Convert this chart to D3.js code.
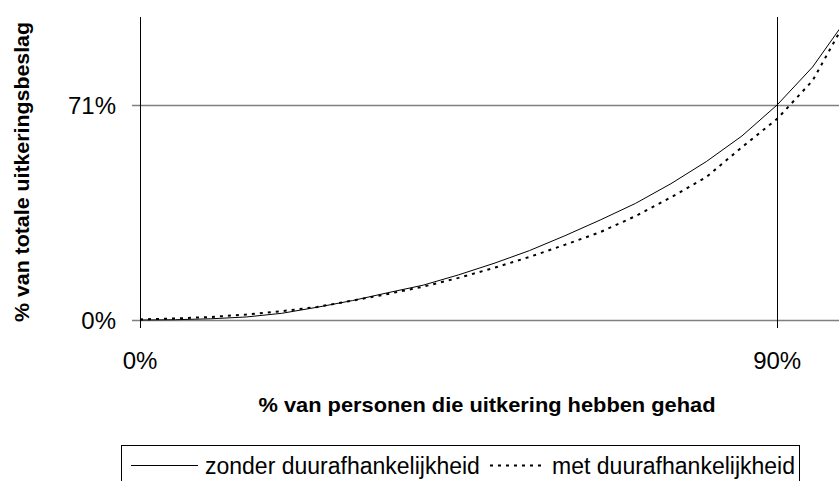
<!DOCTYPE html>
<html>
<head>
<meta charset="utf-8">
<script src="https://cdn.jsdelivr.net/npm/d3@7"></script>
<style>
    body { margin: 0; background: #fff; }
    svg { display: block; }
    text { font-family: "Liberation Sans", Arial, sans-serif; fill: #000; }
</style>
</head>
<body>
<div id="chart"></div>
<script>
// % van personen (x) en % van totale uitkeringsbeslag (y)
var xPct = [0, 5, 10, 15, 20, 25, 30, 35, 40, 45, 50, 55, 60, 65, 70, 75, 80, 85, 90, 95, 100];
var zonder = [0, 0.1, 0.4, 1.0, 2.2, 4.2, 6.4, 9.0, 11.5, 14.9, 18.7, 22.9, 27.8, 33.0, 38.5, 45.0, 52.3, 60.7, 71, 83.5, 100];
var met = [0.2, 0.5, 1.0, 1.8, 2.9, 4.3, 6.4, 8.6, 11.0, 13.9, 17.2, 20.8, 24.8, 29.0, 34.3, 40.5, 47.2, 57.0, 66.4, 79.0, 100];
var xTicks = [0, 90];
var yTicks = [0, 71];
var seriesNames = ["zonder duurafhankelijkheid", "met duurafhankelijkheid"];

function Chart(tagname, width, height) {
    this.svg;
    this.init(tagname, width, height);
}

Chart.prototype.init = function (tagname, width, height) {
    this.svg = d3.select(tagname).append("svg")
        .attr("width", width)
        .attr("height", height);

    var x = d3.scaleLinear().domain([0, 100]).range([140, 848]);
    var y = d3.scaleLinear().domain([0, 100]).range([320, 17]);
    var svg = this.svg;

    // horizontal grid lines (grey), running a bit left of the axis as ticks
    svg.append("g").selectAll("line")
        .data(yTicks)
        .enter().append("line")
        .attr("x1", x(0) - 8)
        .attr("x2", x(100))
        .attr("y1", function (d) { return Math.round(y(d)) + 0.5; })
        .attr("y2", function (d) { return Math.round(y(d)) + 0.5; })
        .style("stroke", "#808080")
        .style("stroke-width", 1.3);

    // vertical lines (black), incl. the y axis itself
    svg.append("g").selectAll("line")
        .data(xTicks)
        .enter().append("line")
        .attr("x1", function (d) { return Math.round(x(d)) + 0.5; })
        .attr("x2", function (d) { return Math.round(x(d)) + 0.5; })
        .attr("y1", y(100))
        .attr("y2", y(0) + 8)
        .style("stroke", "#000")
        .style("stroke-width", 1);

    svg.append("g").selectAll("text")
        .data(yTicks)
        .enter().append("text")
        .attr("x", 116)
        .attr("y", function (d) { return y(d) + 9; })
        .attr("text-anchor", "end")
        .attr("font-size", 24)
        .text(function (d) { return d + "%"; });

    svg.append("g").selectAll("text")
        .data(xTicks)
        .enter().append("text")
        .attr("x", function (d) { return x(d); })
        .attr("y", 369)
        .attr("text-anchor", "middle")
        .attr("font-size", 24)
        .text(function (d) { return d + "%"; });

    svg.append("text")
        .attr("x", 487)
        .attr("y", 412)
        .attr("text-anchor", "middle")
        .attr("font-size", 21)
        .attr("font-weight", "bold")
        .attr("textLength", 457)
        .attr("lengthAdjust", "spacingAndGlyphs")
        .text("% van personen die uitkering hebben gehad");

    svg.append("text")
        .attr("transform", "translate(29,172) rotate(-90)")
        .attr("text-anchor", "middle")
        .attr("font-size", 21)
        .attr("font-weight", "bold")
        .attr("textLength", 300)
        .attr("lengthAdjust", "spacingAndGlyphs")
        .text("% van totale uitkeringsbeslag");

    var line = d3.line()
        .x(function (d) { return x(d[0]); })
        .y(function (d) { return y(d[1]); });

    svg.append("path")
        .datum(d3.zip(xPct, zonder))
        .attr("d", line)
        .style("fill", "none")
        .style("stroke", "#000")
        .style("stroke-width", 1);

    svg.append("path")
        .datum(d3.zip(xPct, met))
        .attr("d", line)
        .style("fill", "none")
        .style("stroke", "#000")
        .style("stroke-width", 2)
        .style("stroke-dasharray", "3,5");

    // legend (box runs off the bottom edge)
    var lg = svg.append("g");
    lg.append("rect")
        .attr("x", 121.5)
        .attr("y", 445.5)
        .attr("width", 678)
        .attr("height", 60)
        .style("fill", "#fff")
        .style("stroke", "#000")
        .style("stroke-width", 1);

    lg.append("line")
        .attr("x1", 131).attr("x2", 198)
        .attr("y1", 465.5).attr("y2", 465.5)
        .style("stroke", "#000");
    lg.append("text")
        .attr("x", 205)
        .attr("y", 474)
        .attr("font-size", 23)
        .text(seriesNames[0]);

    lg.append("line")
        .attr("x1", 490).attr("x2", 546)
        .attr("y1", 465.5).attr("y2", 465.5)
        .style("stroke", "#000")
        .style("stroke-width", 2)
        .style("stroke-dasharray", "3,5");
    lg.append("text")
        .attr("x", 795)
        .attr("y", 474)
        .attr("text-anchor", "end")
        .attr("font-size", 23)
        .text(seriesNames[1]);
}

new Chart("#chart", 839, 481);
</script>
</body>
</html>
